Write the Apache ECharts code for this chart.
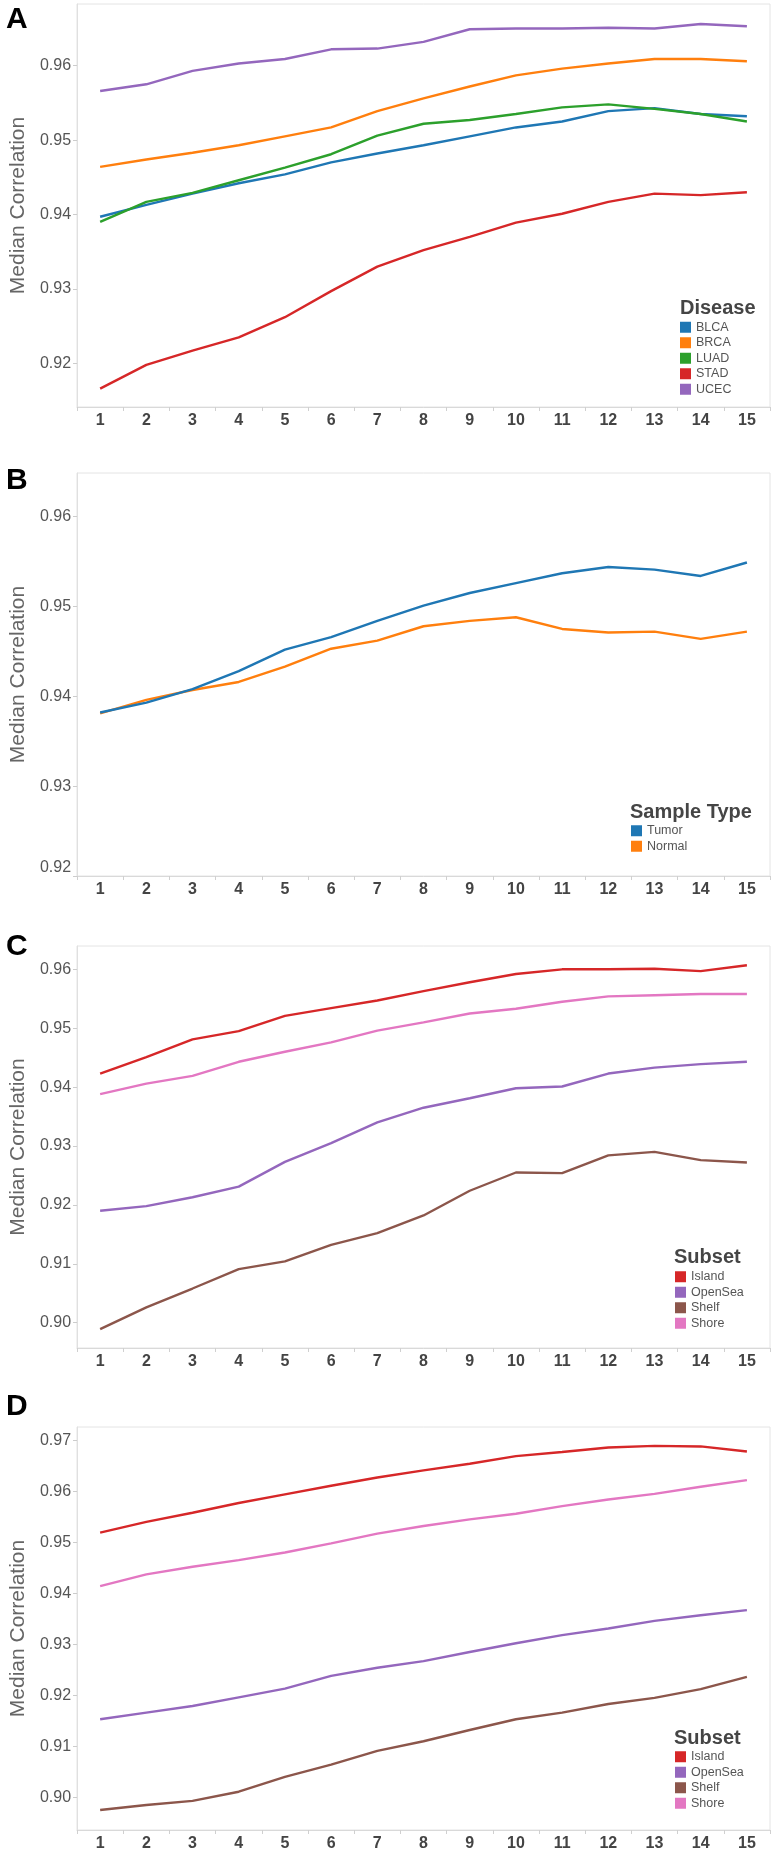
<!DOCTYPE html>
<html><head><meta charset="utf-8">
<script src="https://cdn.jsdelivr.net/npm/echarts@6/dist/echarts.min.js"></script>
<style>html,body{margin:0;padding:0;background:#fff}#c{width:776px;height:1852px}</style>
</head><body><div id="c"></div><script>
// ---- data ----
const categories = ['1','2','3','4','5','6','7','8','9','10','11','12','13','14','15'];

// Panel A: Disease
const diseaseNames = ['BLCA','BRCA','LUAD','STAD','UCEC'];
const A_BLCA = [0.9397,0.9413,0.9428,0.9442,0.9454,0.9470,0.9482,0.9493,0.9505,0.9517,0.9525,0.9539,0.9543,0.9535,0.9532];
const A_BRCA = [0.9464,0.9474,0.9483,0.9493,0.9505,0.9517,0.9539,0.9556,0.9572,0.9587,0.9596,0.9603,0.9609,0.9609,0.9606];
const A_LUAD = [0.9390,0.9417,0.9429,0.9446,0.9463,0.9481,0.9506,0.9522,0.9527,0.9535,0.9544,0.9548,0.9542,0.9535,0.9525];
const A_STAD = [0.9166,0.9198,0.9217,0.9235,0.9262,0.9297,0.9330,0.9352,0.9370,0.9389,0.9401,0.9417,0.9428,0.9426,0.9430];
const A_UCEC = [0.9566,0.9575,0.9593,0.9603,0.9609,0.9622,0.9623,0.9632,0.9649,0.9650,0.9650,0.9651,0.9650,0.9656,0.9653];

// Panel B: Sample Type
const sampleNames = ['Tumor','Normal'];
const B_Tumor  = [0.9382,0.9393,0.9408,0.9428,0.9452,0.9466,0.9484,0.9501,0.9515,0.9526,0.9537,0.9544,0.9541,0.9534,0.9549];
const B_Normal = [0.9381,0.9396,0.9407,0.9416,0.9433,0.9453,0.9462,0.9478,0.9484,0.9488,0.9475,0.9471,0.9472,0.9464,0.9472];

// Panel C: Subset
const subsetNames = ['Island','OpenSea','Shelf','Shore'];
const C_Island  = [0.9423,0.9451,0.9481,0.9495,0.9521,0.9534,0.9547,0.9563,0.9578,0.9592,0.9600,0.9600,0.9601,0.9597,0.9607];
const C_OpenSea = [0.9190,0.9198,0.9213,0.9231,0.9273,0.9305,0.9340,0.9365,0.9381,0.9398,0.9401,0.9423,0.9433,0.9439,0.9443];
const C_Shelf   = [0.8989,0.9026,0.9058,0.9091,0.9104,0.9132,0.9152,0.9182,0.9224,0.9255,0.9254,0.9284,0.9290,0.9276,0.9272];
const C_Shore   = [0.9388,0.9406,0.9419,0.9443,0.9460,0.9476,0.9496,0.9510,0.9525,0.9533,0.9545,0.9554,0.9556,0.9558,0.9558];

// Panel D: Subset
const D_Island  = [0.9519,0.9540,0.9558,0.9577,0.9594,0.9611,0.9627,0.9641,0.9654,0.9669,0.9677,0.9686,0.9689,0.9688,0.9678];
const D_OpenSea = [0.9153,0.9166,0.9179,0.9196,0.9213,0.9238,0.9254,0.9267,0.9285,0.9302,0.9318,0.9331,0.9346,0.9357,0.9367];
const D_Shelf   = [0.8975,0.8985,0.8993,0.9011,0.9040,0.9064,0.9091,0.9110,0.9132,0.9153,0.9166,0.9183,0.9195,0.9212,0.9236];
const D_Shore   = [0.9414,0.9437,0.9452,0.9465,0.9480,0.9498,0.9517,0.9532,0.9545,0.9556,0.9571,0.9584,0.9595,0.9609,0.9622];

// tick labels
const yTicksA = [0.92,0.93,0.94,0.95,0.96];
const yTicksB = [0.92,0.93,0.94,0.95,0.96];
const yTicksC = [0.90,0.91,0.92,0.93,0.94,0.95,0.96];
const yTicksD = [0.90,0.91,0.92,0.93,0.94,0.95,0.96,0.97];
const panelLetters = ['A','B','C','D'];
const legendTitles = ['Disease','Sample Type','Subset','Subset'];
const yAxisTitle = 'Median Correlation';

// ---- layout / style ----
const FONT = 'Liberation Sans, Arial, sans-serif';
const colors = {BLCA:'#1f77b4',BRCA:'#ff7f0e',LUAD:'#2ca02c',STAD:'#d62728',UCEC:'#9467bd',
  Tumor:'#1f77b4',Normal:'#ff7f0e',Island:'#d62728',OpenSea:'#9467bd',Shelf:'#8c564b',Shore:'#e377c2'};
const panels = [
  {top:4,    bottom:407,  min:0.91413, max:0.96829, ticks:yTicksA, letterTop:5,    legLeft:680, legTop:319.5, titleLeft:680, titleTop:298.5},
  {top:473,  bottom:876,  min:0.92,    max:0.96486, ticks:yTicksB, letterTop:466,  legLeft:631, legTop:823,   titleLeft:630, titleTop:802.5},
  {top:946,  bottom:1348, min:0.89570, max:0.96396, ticks:yTicksC, letterTop:932,  legLeft:675, legTop:1269,  titleLeft:674, titleTop:1247.5},
  {top:1427, bottom:1830, min:0.89359, max:0.97261, ticks:yTicksD, letterTop:1392, legLeft:675, legTop:1749,  titleLeft:674, titleTop:1728}
];
const seriesByPanel = [
  [['BLCA',A_BLCA],['BRCA',A_BRCA],['STAD',A_STAD],['UCEC',A_UCEC],['LUAD',A_LUAD]],
  [['Normal',B_Normal],['Tumor',B_Tumor]],
  [['Island',C_Island],['OpenSea',C_OpenSea],['Shelf',C_Shelf],['Shore',C_Shore]],
  [['Island',D_Island],['OpenSea',D_OpenSea],['Shelf',D_Shelf],['Shore',D_Shore]]
];
const legendNames = [diseaseNames, sampleNames, subsetNames, subsetNames];

const grid = [], xAxis = [], yAxis = [], series = [], title = [], legend = [];
panels.forEach((p, i) => {
  grid.push({left:68, right:6, top:p.top, height:p.bottom - p.top, show:true,
    borderColor:'#e4e4e4', borderWidth:1, backgroundColor:'#ffffff'});
  xAxis.push({gridIndex:i, type:'category', data:categories, boundaryGap:true,
    axisLine:{show:true, lineStyle:{color:'#d9d9d9', width:1}},
    axisTick:{show:true, interval:0, length:4, lineStyle:{color:'#d0d0d0'}},
    axisLabel:{interval:0, fontSize:16, fontWeight:'bold', color:'#444', margin:6, fontFamily:FONT},
    splitLine:{show:false}});
  yAxis.push({gridIndex:i, type:'value', min:p.min, max:p.max,
    axisLine:{show:true, lineStyle:{color:'#e0e0e0'}},
    axisTick:{show:true, length:4, lineStyle:{color:'#cccccc'}, customValues:p.ticks},
    axisLabel:{customValues:p.ticks, formatter:v => v.toFixed(2), color:'#555', fontSize:16, margin:6,
      fontFamily:FONT, verticalAlignMinLabel: i === 1 ? 'bottom' : null},
    splitLine:{show:false},
    name:yAxisTitle, nameLocation:'middle', nameGap:38,
    nameTextStyle:{fontSize:21, color:'#666', fontFamily:FONT}});
  seriesByPanel[i].forEach(([name, data]) => {
    series.push({type:'line', name, data, xAxisIndex:i, yAxisIndex:i, showSymbol:false, symbol:'none',
      lineStyle:{width:2.4, color:colors[name]}, itemStyle:{color:colors[name]}, silent:true, animation:false});
  });
  title.push({text:panelLetters[i], left:6, top:p.letterTop, padding:0,
    textStyle:{fontSize:30, fontWeight:'bold', color:'#000', fontFamily:FONT, lineHeight:30}});
  title.push({text:legendTitles[i], left:p.titleLeft, top:p.titleTop, padding:0,
    textStyle:{fontSize:20, fontWeight:'bold', color:'#454545', fontFamily:FONT, lineHeight:20}});
  legend.push({data:legendNames[i], orient:'vertical', left:p.legLeft, top:p.legTop, padding:0,
    itemGap:0, itemWidth:11, itemHeight:11, icon:'rect', selectedMode:false,
    textStyle:{fontSize:12.5, color:'#555', fontFamily:FONT, lineHeight:15.5}});
});

const chart = echarts.init(document.getElementById('c'), null, {renderer:'canvas'});
chart.setOption({backgroundColor:'#ffffff', animation:false, grid, xAxis, yAxis, series, title, legend});
</script></body></html>
